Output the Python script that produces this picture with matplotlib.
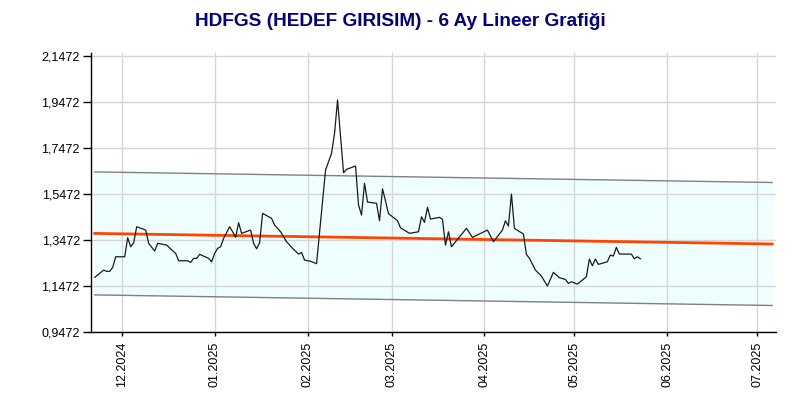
import matplotlib
matplotlib.use("Agg")
import matplotlib.pyplot as plt
import matplotlib.dates as mdates
import matplotlib.ticker as mticker
import pandas as pd
import numpy as np

title = "HDFGS (HEDEF GIRISIM) - 6 Ay Lineer Grafiği"

dates = [
    "2024-11-22", "2024-11-25", "2024-11-26", "2024-11-27", "2024-11-28", "2024-11-29",
    "2024-12-02", "2024-12-03", "2024-12-04", "2024-12-05", "2024-12-06", "2024-12-09",
    "2024-12-10", "2024-12-12", "2024-12-13", "2024-12-16", "2024-12-18", "2024-12-19",
    "2024-12-20", "2024-12-23", "2024-12-24", "2024-12-25", "2024-12-26", "2024-12-27",
    "2024-12-30", "2024-12-31", "2025-01-01", "2025-01-02", "2025-01-03", "2025-01-04",
    "2025-01-06", "2025-01-07", "2025-01-08", "2025-01-09", "2025-01-10", "2025-01-13",
    "2025-01-14", "2025-01-15", "2025-01-16", "2025-01-17", "2025-01-20", "2025-01-21",
    "2025-01-23", "2025-01-25", "2025-01-27", "2025-01-29", "2025-01-30", "2025-01-31",
    "2025-02-02", "2025-02-04", "2025-02-07", "2025-02-09", "2025-02-10", "2025-02-11",
    "2025-02-13", "2025-02-14", "2025-02-17", "2025-02-18", "2025-02-19", "2025-02-20",
    "2025-02-21", "2025-02-24", "2025-02-25", "2025-02-26", "2025-02-28", "2025-03-03",
    "2025-03-04", "2025-03-07", "2025-03-10", "2025-03-11", "2025-03-12", "2025-03-13",
    "2025-03-14", "2025-03-17", "2025-03-18", "2025-03-19", "2025-03-20", "2025-03-21",
    "2025-03-26", "2025-03-28", "2025-04-02", "2025-04-04", "2025-04-07", "2025-04-08",
    "2025-04-09", "2025-04-10", "2025-04-11", "2025-04-14", "2025-04-15", "2025-04-16",
    "2025-04-18", "2025-04-20", "2025-04-22", "2025-04-24", "2025-04-26", "2025-04-28",
    "2025-04-29", "2025-04-30", "2025-05-02", "2025-05-05", "2025-05-06", "2025-05-07",
    "2025-05-08", "2025-05-09", "2025-05-12", "2025-05-13", "2025-05-14", "2025-05-15",
    "2025-05-16", "2025-05-20", "2025-05-21", "2025-05-22", "2025-05-23",
]

prices = [
    1.1861, 1.2178, 1.2122, 1.2122, 1.2295, 1.2756,
    1.2756, 1.3581, 1.3190, 1.3364, 1.4059, 1.3915,
    1.3338, 1.3003, 1.3338, 1.3264, 1.3016, 1.2903,
    1.2582, 1.2582, 1.2512, 1.2686, 1.2686, 1.2860,
    1.2686, 1.2538, 1.2903, 1.3121, 1.3190, 1.3555,
    1.4059, 1.3841, 1.3598, 1.4232, 1.3772, 1.3915,
    1.3338, 1.3103, 1.3364, 1.4641, 1.4423, 1.4132,
    1.3841, 1.3407, 1.3121, 1.2873, 1.2938, 1.2612,
    1.2560, 1.2456, 1.6521, 1.7246, 1.8115, 1.9561,
    1.6404, 1.6551, 1.6695, 1.5001, 1.4567, 1.5943,
    1.5131, 1.5075, 1.4319, 1.5709, 1.4630, 1.4319,
    1.4015, 1.3772, 1.3841, 1.4493, 1.4250, 1.4901,
    1.4393, 1.4467, 1.4380, 1.3264, 1.3841, 1.3190,
    1.3989, 1.3598, 1.3915, 1.3407, 1.3915, 1.4319,
    1.4089, 1.5479, 1.3989, 1.3741, 1.2860, 1.2686,
    1.2178, 1.1917, 1.1483, 1.2078, 1.1844, 1.1774,
    1.1600, 1.1670, 1.1570, 1.1887, 1.2656, 1.2365,
    1.2656, 1.2426, 1.2538, 1.2829, 1.2786, 1.3164,
    1.2873, 1.2873, 1.2669, 1.2756, 1.2669,
]

trend_dates = ["2024-11-22", "2025-07-06"]
trend_values = [1.377, 1.331]
channel_width = 0.267

y_ticks = [0.9472, 1.1472, 1.3472, 1.5472, 1.7472, 1.9472, 2.1472]
x_ticks = ["2024-12-01", "2025-01-01", "2025-02-01", "2025-03-01",
           "2025-04-01", "2025-05-01", "2025-06-01", "2025-07-01"]

plt.rcParams['font.family'] = ['Liberation Sans', 'DejaVu Sans']

fig = plt.figure(figsize=(8, 4), dpi=100)
ax = fig.add_axes([0.11375, 0.169, 0.97 - 0.11375, 0.8675 - 0.169])

d = pd.to_datetime(dates)
td = pd.to_datetime(trend_dates)
tv = np.array(trend_values)

ax.fill_between(td, tv - channel_width, tv + channel_width, color='#EEFEFE', zorder=0.3, linewidth=0)
ax.plot(td, tv + channel_width, color='#808080', lw=1.0, zorder=2)
ax.plot(td, tv - channel_width, color='#808080', lw=1.0, zorder=2)
ax.plot(td, tv, color='#FF4500', lw=2.0, zorder=3)
ax.plot(d, prices, color='#1a1a1a', lw=0.9, zorder=4)

x0 = pd.Timestamp("2024-12-01")
ax.set_xlim(x0 + pd.Timedelta(days=-10.24), x0 + pd.Timedelta(days=218.25))
ax.set_ylim(0.9472, 2.1602)

ax.set_yticks(y_ticks)
ax.yaxis.set_major_formatter(mticker.FuncFormatter(lambda v, p: f"{v:.4f}".replace('.', ',')))
ax.set_xticks(pd.to_datetime(x_ticks))
ax.xaxis.set_major_formatter(mdates.DateFormatter('%m.%Y'))
for lab in ax.get_xticklabels():
    lab.set_rotation(90)

ax.set_axisbelow(True)
ax.grid(True, color='#d6d6d6', lw=1.0)
for s in ['top', 'right']:
    ax.spines[s].set_visible(False)
for s in ['left', 'bottom']:
    ax.spines[s].set_color('black')
    ax.spines[s].set_linewidth(1.0)
ax.tick_params(axis='y', length=6, width=1, pad=2, labelsize=9, colors='black')
ax.tick_params(axis='x', length=3, width=1, pad=4, labelsize=9, colors='black')

fig.text(0.5, 0.945, title, ha='center', va='center', fontsize=13.7, fontweight='bold', color='#000080')

fig.savefig('out.png', dpi=100)
